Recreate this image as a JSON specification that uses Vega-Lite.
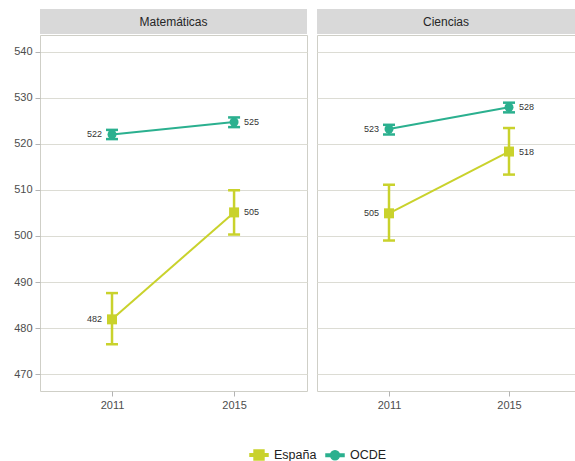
{
  "$schema": "https://vega.github.io/schema/vega-lite/v6.json",
  "background": "white",
  "padding": {"top": 9, "left": 13, "right": 0, "bottom": 0},
  "datasets": {
    "d": [
      {"materia": "Matemáticas", "grupo": "España", "anio": 2011, "valor": 481.9, "inf": 476.5, "sup": 487.6},
      {"materia": "Matemáticas", "grupo": "España", "anio": 2015, "valor": 505.1, "inf": 500.3, "sup": 509.9},
      {"materia": "Matemáticas", "grupo": "OCDE", "anio": 2011, "valor": 522.0, "inf": 521.0, "sup": 523.0},
      {"materia": "Matemáticas", "grupo": "OCDE", "anio": 2015, "valor": 524.7, "inf": 523.6, "sup": 525.7},
      {"materia": "Ciencias", "grupo": "España", "anio": 2011, "valor": 504.9, "inf": 499.0, "sup": 511.1},
      {"materia": "Ciencias", "grupo": "España", "anio": 2015, "valor": 518.3, "inf": 513.3, "sup": 523.4},
      {"materia": "Ciencias", "grupo": "OCDE", "anio": 2011, "valor": 523.2, "inf": 522.0, "sup": 524.1},
      {"materia": "Ciencias", "grupo": "OCDE", "anio": 2015, "valor": 527.9, "inf": 526.8, "sup": 528.9}
    ]
  },
  "config": {
    "font": "Liberation Sans",
    "view": {"stroke": "#cfcfc7", "strokeWidth": 1},
    "axis": {
      "labelFont": "Liberation Sans",
      "labelFontSize": 11,
      "labelColor": "#4d4d4d",
      "tickColor": "#b3b3b3",
      "tickSize": 5,
      "labelPadding": 3,
      "domain": false,
      "gridColor": "#dcdcd4",
      "title": null
    },
    "legend": {
      "direction": "horizontal",
      "title": null,
      "labelFont": "Liberation Sans",
      "labelFontSize": 12.5,
      "labelColor": "#222222",
      "symbolSize": 324,
      "labelOffset": 5,
      "columnPadding": 6
    }
  },
  "concat": [
    {
      "width": 267,
      "height": 25,
      "view": {"fill": "#d9d9d9", "stroke": null},
      "data": {"values": [{"panel": "Matemáticas"}]},
      "mark": {"type": "text", "fontSize": 12, "color": "#262626", "font": "Liberation Sans", "baseline": "middle"},
      "encoding": {"text": {"field": "panel"}}
    },
    {
      "width": 258,
      "height": 25,
      "view": {"fill": "#d9d9d9", "stroke": null},
      "data": {"values": [{"panel": "Ciencias"}]},
      "mark": {"type": "text", "fontSize": 12, "color": "#262626", "font": "Liberation Sans", "baseline": "middle"},
      "encoding": {"text": {"field": "panel"}}
    },
    {
      "width": 267,
      "height": 356,
      "data": {"name": "d"},
      "transform": [{"filter": "datum.materia === 'Matemáticas'"}],
      "encoding": {
        "x": {"field": "anio", "type": "quantitative", "title": null,
              "scale": {"domain": [2008.64, 2017.39], "nice": false, "zero": false},
              "axis": {"values": [2011, 2015], "format": "d", "grid": false}},
        "y": {"field": "valor", "type": "quantitative", "title": null,
              "scale": {"domain": [466.36, 543.58], "nice": false, "zero": false},
              "axis": {"values": [470, 480, 490, 500, 510, 520, 530, 540], "grid": true}},
        "color": {"field": "grupo", "type": "nominal",
                  "scale": {"domain": ["España", "OCDE"], "range": ["#c9d22c", "#2bb08f"]},
                  "legend": {"orient": "none", "legendX": 209, "legendY": 436, "direction": "horizontal",
                    "encode": {"symbols": {"update": {
                    "shape": {"signal": "datum.value === 'España' ? 'M-1,-0.13H-0.5V0.13H-1Z M0.5,-0.13H1V0.13H0.5Z M-0.55,-0.55H0.55V0.55H-0.55Z' : 'M-1,-0.13H-0.45V0.13H-1Z M0.45,-0.13H1V0.13H0.45Z M-0.5,0A0.5,0.5 0 1,1 0.5,0A0.5,0.5 0 1,1 -0.5,0Z'"},
                    "fill": {"signal": "scale('color', datum.value)"},
                    "stroke": {"value": "transparent"},
                    "opacity": {"value": 1}
                  }}}}}
      },
      "layer": [
        {"mark": {"type": "line", "strokeWidth": 2}},
        {"mark": {"type": "rule", "strokeWidth": 2.5},
         "encoding": {"y": {"field": "inf", "type": "quantitative", "title": null}, "y2": {"field": "sup"}}},
        {"mark": {"type": "tick", "orient": "horizontal", "size": 12, "thickness": 2.5, "opacity": 1},
         "encoding": {"y": {"field": "inf", "type": "quantitative", "title": null}}},
        {"mark": {"type": "tick", "orient": "horizontal", "size": 12, "thickness": 2.5, "opacity": 1},
         "encoding": {"y": {"field": "sup", "type": "quantitative", "title": null}}},
        {"mark": {"type": "point", "filled": true, "opacity": 1, "size": 100, "shape": "square"},
         "transform": [{"filter": "datum.grupo === 'España'"}]},
        {"mark": {"type": "point", "filled": true, "opacity": 1, "size": 81, "shape": "circle"},
         "transform": [{"filter": "datum.grupo === 'OCDE'"}]},
        {"mark": {"type": "text", "fontSize": 9, "align": "right", "dx": -10, "baseline": "middle", "color": "#333333"},
         "transform": [{"filter": "datum.anio === 2011"}],
         "encoding": {"text": {"field": "valor", "type": "quantitative", "format": ".0f"}, "color": {"value": "#333333"}}},
        {"mark": {"type": "text", "fontSize": 9, "align": "left", "dx": 10, "baseline": "middle", "color": "#333333"},
         "transform": [{"filter": "datum.anio === 2015"}],
         "encoding": {"text": {"field": "valor", "type": "quantitative", "format": ".0f"}, "color": {"value": "#333333"}}}
      ]
    },
    {
      "width": 258,
      "height": 356,
      "data": {"name": "d"},
      "transform": [{"filter": "datum.materia === 'Ciencias'"}],
      "encoding": {
        "x": {"field": "anio", "type": "quantitative", "title": null,
              "scale": {"domain": [2008.6, 2017.2], "nice": false, "zero": false},
              "axis": {"values": [2011, 2015], "format": "d", "grid": false}},
        "y": {"field": "valor", "type": "quantitative", "title": null,
              "scale": {"domain": [466.36, 543.58], "nice": false, "zero": false},
              "axis": {"values": [470, 480, 490, 500, 510, 520, 530, 540], "grid": true, "labels": false, "ticks": false}},
        "color": {"field": "grupo", "type": "nominal",
                  "scale": {"domain": ["España", "OCDE"], "range": ["#c9d22c", "#2bb08f"]}}
      },
      "layer": [
        {"mark": {"type": "line", "strokeWidth": 2}},
        {"mark": {"type": "rule", "strokeWidth": 2.5},
         "encoding": {"y": {"field": "inf", "type": "quantitative", "title": null}, "y2": {"field": "sup"}}},
        {"mark": {"type": "tick", "orient": "horizontal", "size": 12, "thickness": 2.5, "opacity": 1},
         "encoding": {"y": {"field": "inf", "type": "quantitative", "title": null}}},
        {"mark": {"type": "tick", "orient": "horizontal", "size": 12, "thickness": 2.5, "opacity": 1},
         "encoding": {"y": {"field": "sup", "type": "quantitative", "title": null}}},
        {"mark": {"type": "point", "filled": true, "opacity": 1, "size": 100, "shape": "square"},
         "transform": [{"filter": "datum.grupo === 'España'"}]},
        {"mark": {"type": "point", "filled": true, "opacity": 1, "size": 81, "shape": "circle"},
         "transform": [{"filter": "datum.grupo === 'OCDE'"}]},
        {"mark": {"type": "text", "fontSize": 9, "align": "right", "dx": -10, "baseline": "middle", "color": "#333333"},
         "transform": [{"filter": "datum.anio === 2011"}],
         "encoding": {"text": {"field": "valor", "type": "quantitative", "format": ".0f"}, "color": {"value": "#333333"}}},
        {"mark": {"type": "text", "fontSize": 9, "align": "left", "dx": 10, "baseline": "middle", "color": "#333333"},
         "transform": [{"filter": "datum.anio === 2015"}],
         "encoding": {"text": {"field": "valor", "type": "quantitative", "format": ".0f"}, "color": {"value": "#333333"}}}
      ]
    }
  ],
  "columns": 2,
  "spacing": {"row": 0, "column": 8},
  "resolve": {
    "scale": {"x": "independent", "y": "independent", "color": "shared"},
    "axis": {"x": "independent", "y": "independent"},
    "legend": {"color": "shared"}
  }
}
